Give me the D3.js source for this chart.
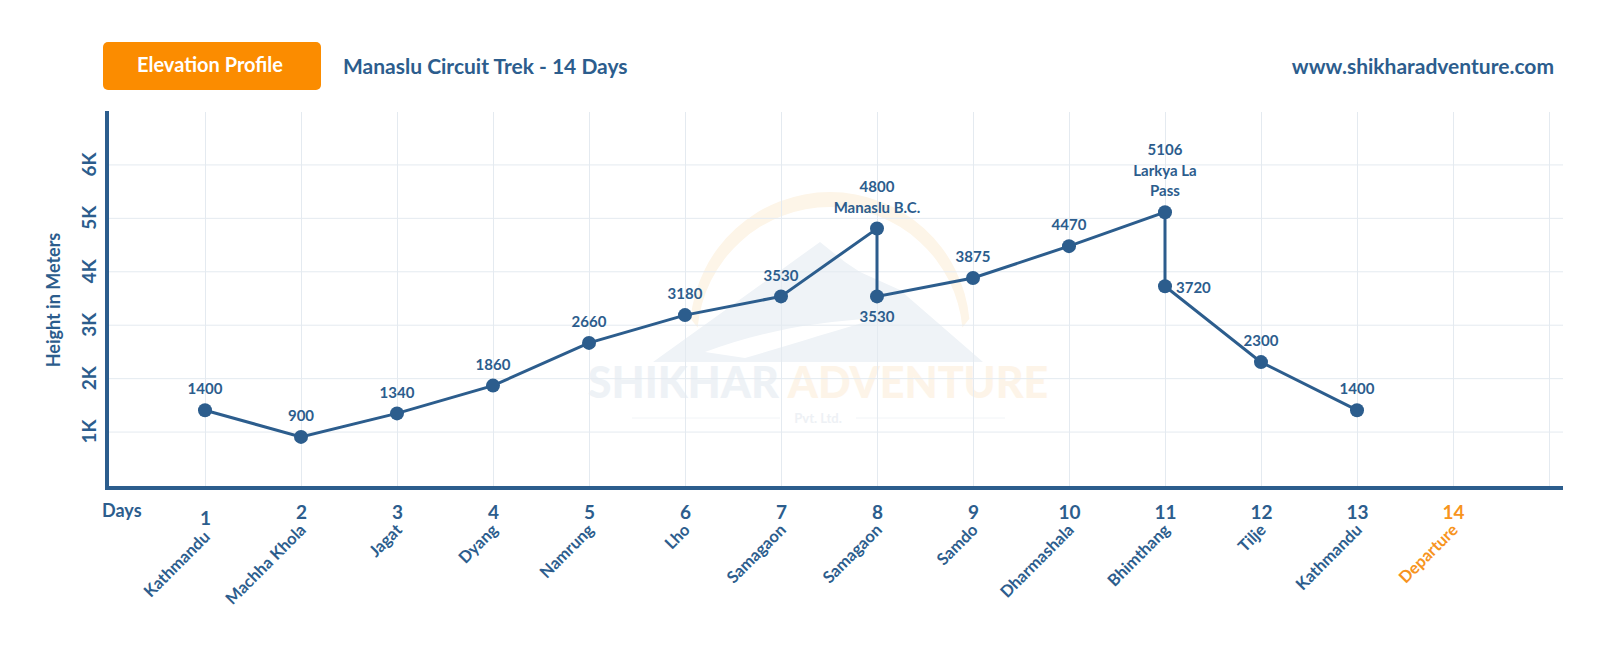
<!DOCTYPE html>
<html>
<head>
<meta charset="utf-8">
<script src="https://cdn.jsdelivr.net/npm/d3@7"></script>
<style>
  body { margin: 0; background: #fff; }
  svg { display: block; font-family: Lato, "Open Sans", sans-serif; }
</style>
</head>
<body>
<div id="chart"></div>
<script>
// itinerary
var days = [1, 2, 3, 4, 5, 6, 7, 8, 9, 10, 11, 12, 13, 14];
var places = ["Kathmandu", "Machha Khola", "Jagat", "Dyang", "Namrung", "Lho", "Samagaon",
              "Samagaon", "Samdo", "Dharmashala", "Bhimthang", "Tilje", "Kathmandu", "Departure"];

// profile points (day 8 and 11 have two values)
var pointDays = [1, 2, 3, 4, 5, 6, 7, 8, 8, 9, 10, 11, 11, 12, 13];
var elevations = [1400, 900, 1340, 1860, 2660, 3180, 3530, 4800, 3530, 3875, 4470, 5106, 3720, 2300, 1400];
var pointNotes = ["", "", "", "", "", "", "", "Manaslu B.C.", "", "", "", "Larkya La|Pass", "", "", ""];
var labelSide = ["top", "top", "top", "top", "top", "top", "top", "top", "bottom", "top", "top", "top", "right", "top", "top"];

var yTicks = [1000, 2000, 3000, 4000, 5000, 6000];
var yTickLabels = ["1K", "2K", "3K", "4K", "5K", "6K"];

var width = 1600, height = 645;
var blue = "#2c5d8d", orange = "#f7941d", grid = "#e4eaf0";

var svg = d3.select("#chart").append("svg")
    .attr("width", width)
    .attr("height", height);

var x = d3.scaleLinear().domain([0, 15]).range([109, 1549]);
var y = d3.scaleLinear().domain([0, 7000]).range([485, 111]);

// header
svg.append("rect")
    .attr("x", 103).attr("y", 42).attr("width", 218).attr("height", 48)
    .attr("rx", 5).style("fill", "#fb8c00");
svg.append("text")
    .attr("x", 210).attr("y", 65).attr("dy", "0.35em")
    .attr("text-anchor", "middle")
    .style("fill", "#fff").style("font-size", "20px").style("font-weight", 700)
    .text("Elevation Profile");
svg.append("text")
    .attr("x", 343).attr("y", 67).attr("dy", "0.35em")
    .style("fill", blue).style("font-size", "21px").style("font-weight", 700)
    .text("Manaslu Circuit Trek - 14 Days");
svg.append("text")
    .attr("x", 1554).attr("y", 67).attr("dy", "0.35em")
    .attr("text-anchor", "end")
    .style("fill", blue).style("font-size", "21px").style("font-weight", 700)
    .text("www.shikharadventure.com");

// watermark
var wm = svg.append("g").attr("class", "watermark");
var ring = d3.path();
ring.arc(830, 332, 140, Math.PI * 1.03, Math.PI * 1.97);
ring.arc(830, 340, 133, Math.PI * 1.97, Math.PI * 1.03, true);
ring.closePath();
wm.append("path").attr("d", ring.toString()).style("fill", "#fdf5e8");
wm.append("path")
    .attr("d", "M653,362 L820,242 L845,262 L860,272 L900,290 L983,362 Z")
    .style("fill", "#eff3f7");
wm.append("path")
    .attr("d", "M705,352 C760,332 810,322 880,318 C830,332 790,345 745,358 Z")
    .style("fill", "#ffffff");
wm.append("text")
    .attr("x", 818).attr("y", 383).attr("dy", "0.35em")
    .attr("text-anchor", "middle")
    .style("font-size", "43px").style("font-weight", 900)
    .call(function (t) {
        t.append("tspan").style("fill", "#eef2f6").text("SHIKHAR ");
        t.append("tspan").style("fill", "#fdf4e8").text("ADVENTURE");
    });
wm.append("text")
    .attr("x", 818).attr("y", 418).attr("dy", "0.35em")
    .attr("text-anchor", "middle")
    .style("fill", "#eef1f5").style("font-size", "13px").style("font-weight", 700)
    .text("Pvt. Ltd.");
wm.append("line").attr("x1", 632).attr("x2", 780).attr("y1", 418).attr("y2", 418).style("stroke", "#f1f4f7");
wm.append("line").attr("x1", 856).attr("x2", 1005).attr("y1", 418).attr("y2", 418).style("stroke", "#f1f4f7");

// gridlines
svg.append("g")
    .attr("transform", "translate(109,0)")
    .call(d3.axisLeft(y).tickValues(yTicks).tickSize(-1454).tickFormat(""))
    .call(function (g) {
        g.select(".domain").remove();
        g.selectAll("line").style("stroke", grid);
    });
svg.append("g")
    .attr("transform", "translate(0,486)")
    .call(d3.axisBottom(x).tickValues(d3.range(1, 16)).tickSize(-374).tickFormat(""))
    .call(function (g) {
        g.select(".domain").remove();
        g.selectAll("line").style("stroke", grid);
    });

// y tick labels
var yAxis = svg.append("g")
    .attr("transform", "translate(88,0)")
    .call(d3.axisLeft(y).tickValues(yTicks).tickSize(0)
        .tickFormat(function (d, i) { return yTickLabels[i]; }));
yAxis.select(".domain").remove();
yAxis.selectAll(".tick").attr("transform", null);
yAxis.selectAll("text")
    .attr("x", 0).attr("dy", 0)
    .attr("transform", function (d) { return "translate(0," + y(d) + ") rotate(-90)"; })
    .attr("y", 8)
    .attr("text-anchor", "middle")
    .style("fill", blue).style("font-size", "19px").style("font-weight", 700)
    .style("font-family", "Lato, sans-serif");

svg.append("text")
    .attr("transform", "translate(60,300) rotate(-90)")
    .attr("text-anchor", "middle")
    .style("fill", blue).style("font-size", "18px").style("font-weight", 700)
    .text("Height in Meters");

// axis lines
svg.append("line")
    .attr("x1", 107).attr("x2", 107).attr("y1", 111).attr("y2", 490)
    .style("stroke", blue).style("stroke-width", 4);
svg.append("line")
    .attr("x1", 105).attr("x2", 1563).attr("y1", 488).attr("y2", 488)
    .style("stroke", blue).style("stroke-width", 4);

// x ticks: day numbers
var xAxis = svg.append("g")
    .attr("transform", "translate(0,490)")
    .call(d3.axisBottom(x).tickValues(days).tickSize(0).tickFormat(d3.format("d")));
xAxis.select(".domain").remove();
xAxis.selectAll("text")
    .attr("y", function (d) { return d === 1 ? 28 : 22; })
    .attr("dy", "0.35em")
    .style("fill", function (d) { return d === 14 ? orange : blue; })
    .style("font-size", "19px").style("font-weight", 700)
    .style("font-family", "Lato, sans-serif");

svg.append("text")
    .attr("x", 102).attr("y", 511).attr("dy", "0.35em")
    .style("fill", blue).style("font-size", "18px").style("font-weight", 700)
    .text("Days");

// place names
svg.append("g").selectAll("text")
    .data(days)
    .enter().append("text")
    .attr("transform", function (d) {
        return "translate(" + (x(d) + 6) + "," + (d === 1 ? 538 : 531) + ") rotate(-45)";
    })
    .attr("text-anchor", "end")
    .style("fill", function (d) { return d === 14 ? orange : blue; })
    .style("font-size", "16.5px").style("font-weight", 700)
    .text(function (d, i) { return places[i]; });

// profile line
var pts = pointDays.map(function (d, i) {
    return {day: d, elev: elevations[i], note: pointNotes[i], side: labelSide[i]};
});

var line = d3.line()
    .x(function (d) { return x(d.day); })
    .y(function (d) { return y(d.elev); });

svg.append("path")
    .datum(pts)
    .attr("d", line)
    .style("fill", "none")
    .style("stroke", blue)
    .style("stroke-width", 3);

svg.append("g").selectAll("circle")
    .data(pts)
    .enter().append("circle")
    .attr("cx", function (d) { return x(d.day); })
    .attr("cy", function (d) { return y(d.elev); })
    .attr("r", 7)
    .style("fill", blue);

// value labels
var labels = svg.append("g").selectAll("text")
    .data(pts)
    .enter().append("text")
    .style("fill", blue).style("font-size", "15px").style("font-weight", 700)
    .attr("text-anchor", function (d) { return d.side === "right" ? "start" : "middle"; });

labels.each(function (d) {
    var lines = [String(d.elev)].concat(d.note ? d.note.split("|") : []);
    var t = d3.select(this);
    var cx = x(d.day), cy = y(d.elev);
    var lh = 20.5;
    var first;
    if (d.side === "top") first = cy - 21 - (lines.length - 1) * lh;
    else if (d.side === "bottom") first = cy + 20;
    else first = cy + 2;
    lines.forEach(function (s, i) {
        t.append("tspan")
            .attr("x", d.side === "right" ? cx + 11 : cx)
            .attr("y", first + i * lh)
            .attr("dy", "0.35em")
            .text(s);
    });
});
</script>
</body>
</html>
